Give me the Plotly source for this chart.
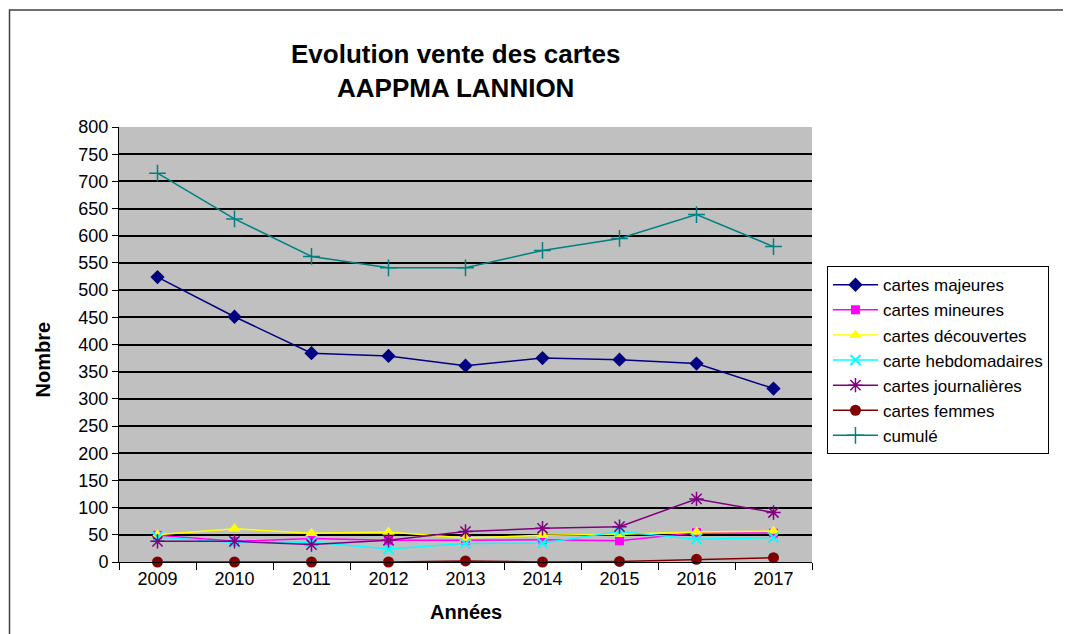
import plotly.graph_objects as go

years = [2009, 2010, 2011, 2012, 2013, 2014, 2015, 2016, 2017]
majeures = [524, 451, 384, 379, 361, 375, 372, 365, 319]
mineures = [49, 38, 43, 40, 40, 41, 39, 54, 53]
decouvertes = [50, 61, 53, 55, 44, 49, 51, 55, 57]
hebdomadaires = [46, 36, 37, 24, 34, 35, 56, 42, 45]
journalieres = [38, 38, 32, 40, 56, 62, 65, 116, 91]
femmes = [0, 0, 0, 0, 2, 0, 1, 5, 8]
cumule = [715, 631, 562, 541, 541, 573, 595, 639, 580]

series = [
    ("cartes majeures", majeures, "#000080", "diamond", 11, None),
    ("cartes mineures", mineures, "#FF00FF", "square", 9, None),
    ("cartes découvertes", decouvertes, "#FFFF00", "triangle-up", 11, None),
    ("carte hebdomadaires", hebdomadaires, "#00FFFF", "x-thin-open", 10, 2),
    ("cartes journalières", journalieres, "#800080", "asterisk-open", 12, 1.5),
    ("cartes femmes", femmes, "#800000", "circle", 11, None),
    ("cumulé", cumule, "#008080", "cross-thin-open", 12, 1.5),
]

font = "Liberation Sans, Arial, sans-serif"
fig = go.Figure()
for name, vals, color, sym, size, lw in series:
    marker = dict(symbol=sym, size=size, color=color)
    if lw:
        marker["line"] = dict(color=color, width=lw)
    fig.add_trace(go.Scatter(x=years, y=vals, name=name, mode="lines+markers",
                             cliponaxis=False,
                             line=dict(color=color, width=1.5), marker=marker))

fig.update_layout(
    width=1071, height=634,
    margin=dict(l=111, r=267, t=119, b=80),
    paper_bgcolor="white", plot_bgcolor="#C0C0C0",
    font=dict(family=font, size=18, color="black"),
    showlegend=True,
    legend=dict(x=1.0216, y=0.68, xanchor="left", yanchor="top",
                bordercolor="black", borderwidth=1, bgcolor="white",
                font=dict(family=font, size=17), tracegroupgap=0,
                itemwidth=45),
    xaxis=dict(range=[2008.5, 2017.5], tickvals=years, ticktext=[str(y) for y in years],
               ticks="", showgrid=False, zeroline=False, showline=True,
               linecolor="black", linewidth=1,
               tickfont=dict(family=font, size=18),
               minor=dict(ticks="outside", tick0=2008.5, dtick=1, ticklen=7,
                          tickcolor="black", tickwidth=1, showgrid=False)),
    yaxis=dict(range=[0, 800], dtick=50, ticks="outside", ticklen=6, tickcolor="black",
               showgrid=True, gridcolor="black", gridwidth=1.8, zeroline=False,
               showline=True, linecolor="black", linewidth=1,
               tickfont=dict(family=font, size=18)),
    annotations=[
        dict(text="<b>Evolution vente des cartes</b><br><b>AAPPMA LANNION</b>",
             x=0.485, y=1.128, xref="paper", yref="paper", xanchor="center", yanchor="middle",
             showarrow=False, font=dict(family=font, size=26, color="black")),
        dict(text="<b>Nombre</b>", x=-0.11, y=0.465, xref="paper", yref="paper",
             xanchor="center", yanchor="middle",
             textangle=-90, showarrow=False, font=dict(family=font, size=20)),
        dict(text="<b>Années</b>", x=0.5, y=-0.115, xref="paper", yref="paper",
             xanchor="center", yanchor="middle",
             showarrow=False, font=dict(family=font, size=20)),
    ],
    shapes=[dict(type="rect", xref="paper", yref="paper", x0=-0.158, y0=-0.25,
                 x1=1.5, y1=1.269, line=dict(color="#404040", width=1.5),
                 fillcolor="rgba(0,0,0,0)", layer="below")],
)

fig.write_html("out.html")
